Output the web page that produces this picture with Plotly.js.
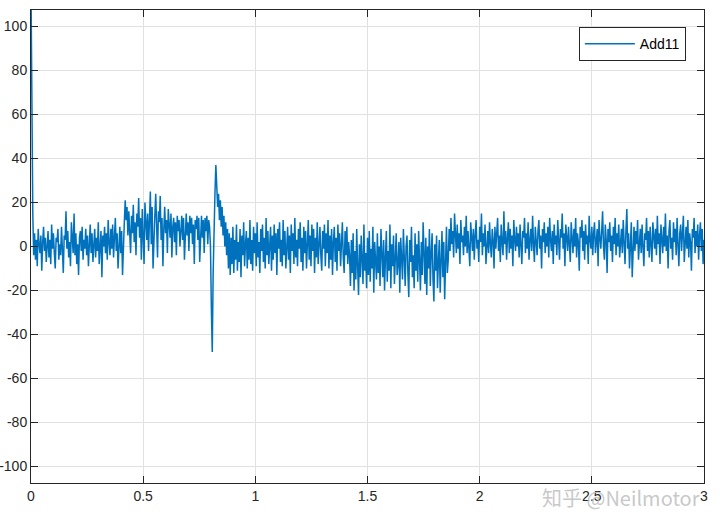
<!DOCTYPE html>
<html>
<head>
<meta charset="utf-8">
<script src="https://cdn.plot.ly/plotly-3.0.1.min.js"></script>
<style>
  html, body { margin: 0; padding: 0; background: #ffffff; }
  #chart { width: 720px; height: 530px; }
</style>
</head>
<body>
<div id="chart"></div>
<script>
// Sample time of the logged signal (s)
const sampleTime = 0.004;
const seriesName = "Add11";

// Signal values, in consecutive pieces
const seg1 = [118, 53, 15, -4, 6, -6, 3, -9, 8, 1,
  -3, 5, -11, 2, 9, -2, 4, -7, 1, 7,
  -5, 3, -8, 10, -1, 6, -3, -10, 4, 2,
  8, -6, 1, -4, 9, -2, -12, 5, 3, 16,
  -1, 7, -5, 2, -9, 11, 3, -3, 15, -4,
  6, -8, 1, -13, 4, 7, -2, 9, -6, 3,
  -1, 8, -4, 5, -9, 2, 10, -3, 6, -7,
  1, 8, -5, 4, -2, 11, -8, 3, 7, -14,
  5, 0, 9, -3, 6, -6, 12, 2, -4, 8,
  -1, 10, -5, 4, 13, -2, 6, -10, 3, 9,
  -3, 7, -13, 5, 11];
const seg2 = [21, 12, 18, 5, 16, 8, -3, 14, 6, 19,
  2, 11, -4, 15, 9, 22, 4, 13, -6, 17,
  7, -8, 20, 10, 3, 15, -2, 12, 25, 1,
  18, -10, 9, 14, 24, 5, -5, 16, 11, 23,
  3, 13, -9, 8, 18, 6, 12, -3, 17, 10,
  4, 15, -5, 9, 13, 2, 11, -4, 14, 7,
  12, 0, 10, 14, 3, 13, -6, 9, 15, 5,
  11, -2, 14, 6, 13, 1, 10, -8, 12, 8,
  14, 3, 13, -7, 9, 14, 4, 12, -3, 13,
  7, 14, 1, 12, 9];
const seg3 = [0, -28, -48, -12, 14, 24, 37, 28, 18, 24,
  12, 21, 9, 18, 5, 14, 0, 11, -4, 8];
const seg4 = [-10, 6, -13, 4, -8, 9, -12, 3, -6, 10,
  -11, 2, -7, 8, -14, 5, -4, 11, -9, 1,
  7, -10, 4, -6, 12, -8, 3, -11, 9, -3,
  6, -9, 11, -5, 2, -12, 8, -2, 10, -7,
  4, -10, 13, -4, 7, -8, 1, 9, -11, 5,
  -6, 10, -3, 6, -13, 8, -1, 11, -7, 3,
  -9, 12, -4, 7, -10, 2, 9, -6, 5, -12,
  10, -2, 6, -8, 13, -5, 3, -9, 8, -1,
  11, -7, 4, -11, 9, -3, 7, -10, 2, 12,
  -6, 5, -9, 10, -2, 8, -12, 4, -5, 11,
  -8, 3, 9, -4, -11, 7, -1, 10, -9, 6,
  -3, 12, -10, 5, -6, 8, -13, 2, 9, -7,
  4, -11, 10, -2, 6, -9, 3, 11, -5, -12,
  7, -4, 9, -8, 2];
const seg5 = [-4, -18, 3, -12, 6, -20, -2, -15, 8, -9,
  -22, 1, -14, 5, -7, -17, 10, -11, -3, -19,
  4, -13, 7, -16, -1, -10, 9, -21, 2, -8,
  -15, 6, -12, 0, -18, 8, -6, -14, 3, -20,
  -5, 7, -16, -2, -11, 10, -19, 1, -9, 5,
  -17, -3, 6, -13, -8, 2, -21, 4, -10, -15,
  8, -6, -18, 0, 5, -12, -23, 3, -7, 9,
  -14, -4, -19, 6, -11, 1, -16, 7, -9, -20,
  2, -13, 11, -6, -17, 4, -22, 0, -10, 8,
  -18, -3, 6, -15, -25, 1, -11, 5, -19, -7,
  3, -21, -9, 7, -14, 2, -24, -5, 9, -12];
const seg6 = [-6, 8, -2, 13, 1, 7, -5, 15, 3, -3,
  10, -1, 6, -8, 12, 2, 5, -4, 9, 0,
  14, -3, 7, 1, -9, 11, 4, -2, 8, -6,
  5, 12, -1, 3, -7, 9, 2, 15, -4, 6,
  0, 10, -8, 4, 7, -3, 11, 1, -5, 8,
  3, -10, 9, -1, 6, 13, -2, 5, -7, 10,
  2, -4, 16, 1, 7, -6, 4, 11, -3, 8,
  -1, 5, -9, 12, 3, -2, 9, 0, 6, -5,
  10, 2, -8, 7, 4, 13, -3, 6, -1, 11,
  -6, 3, 8, -2, 14, 1, -7, 9, 4, -4,
  7, 12, -1, 5, -10, 8, 2, 11, -3, 6,
  0, 9, -5, 13, 3, -2, 7, -8, 10, 1,
  5, -4, 12, 2, -6, 8, 4, 15, -1, 6,
  -9, 10, 3, -2, 9, 1, -7, 11, 5, -3,
  8, 0, 13, -5, 6, 2, -11, 9, 4, 12,
  -2, 7, -6, 10, 1, 5, -8, 14, 3, -1,
  9, -4, 6, 11, -3, 2, 8, -9, 12, 4,
  -1, 7, 16, 0, -6, 10, 3, -12, 8, 2,
  11, -2, 5, -7, 9, 1, 13, -4, 6, 0,
  10, -5, 4, 8, -3, 12, 2, -8, 7, 17,
  -1, 6, -10, 3, 11, -14, 5, 9, -2, 7,
  1, 12, -6, 4, 8, -3, 10, 0, -9, 6,
  3, 13, -2, 7, -5, 9, 2, -7, 11, 4,
  -1, 8, -4, 14, 1, 6, -8, 10, 3, -3,
  9, 0, 15, -2, 5, -10, 7, 12, -1, 4,
  -6, 11, 2, 8, -4, 13, 1, -9, 6, 10,
  -2, 5, 14, -7, 3, 9, -1, 12, -5, 6,
  2, -11, 8, 4, 13, -3, 7, 0, 10, -6,
  5, 11, -2, 8, -8, 3];

const xTickVals = [0, 0.5, 1, 1.5, 2, 2.5, 3];
const xTickText = ["0", "0.5", "1", "1.5", "2", "2.5", "3"];
const yTickVals = [-100, -80, -60, -40, -20, 0, 20, 40, 60, 80, 100];
const yTickText = ["-100", "-80", "-60", "-40", "-20", "0", "20", "40", "60", "80", "100"];
const watermark = "知乎 @Neilmotor";

const signal = [].concat(seg1, seg2, seg3, seg4, seg5, seg6);
const time = signal.map((_, i) => i * sampleTime);

const axisCommon = {
  showline: true,
  linecolor: "#262626",
  linewidth: 1,
  mirror: "ticks",
  ticks: "inside",
  ticklen: 7,
  tickwidth: 1,
  tickcolor: "#262626",
  showgrid: true,
  gridcolor: "#e1e1e1",
  gridwidth: 1,
  zeroline: false,
  tickfont: { family: "Liberation Sans, Arial, sans-serif", size: 14, color: "#262626" },
  tickmode: "array"
};

const layout = {
  width: 720,
  height: 530,
  margin: { l: 31, r: 16, t: 10, b: 47 },
  paper_bgcolor: "#ffffff",
  plot_bgcolor: "#ffffff",
  showlegend: true,
  xaxis: Object.assign({}, axisCommon, {
    range: [0, 3],
    tickvals: xTickVals,
    ticktext: xTickText
  }),
  yaxis: Object.assign({}, axisCommon, {
    range: [-107.5, 107.5],
    tickvals: yTickVals,
    ticktext: yTickText
  }),
  legend: {
    x: 0.973,
    xanchor: "right",
    y: 0.964,
    yanchor: "top",
    bgcolor: "#ffffff",
    bordercolor: "#262626",
    borderwidth: 1,
    itemwidth: 50,
    font: { family: "Liberation Sans, Arial, sans-serif", size: 14, color: "#000000" }
  },
  annotations: [{
    text: watermark,
    xref: "paper", yref: "paper",
    x: 0.997, xanchor: "right",
    y: -0.03, yanchor: "middle",
    showarrow: false,
    font: { family: "Noto Sans CJK SC, sans-serif", size: 20, color: "rgba(190,190,190,0.85)" }
  }]
};

const trace = {
  type: "scatter",
  mode: "lines",
  name: seriesName,
  x: time,
  y: signal,
  line: { color: "#0072BD", width: 1.5 }
};

Plotly.newPlot("chart", [trace], layout, { displayModeBar: false, staticPlot: true });
</script>
</body>
</html>
